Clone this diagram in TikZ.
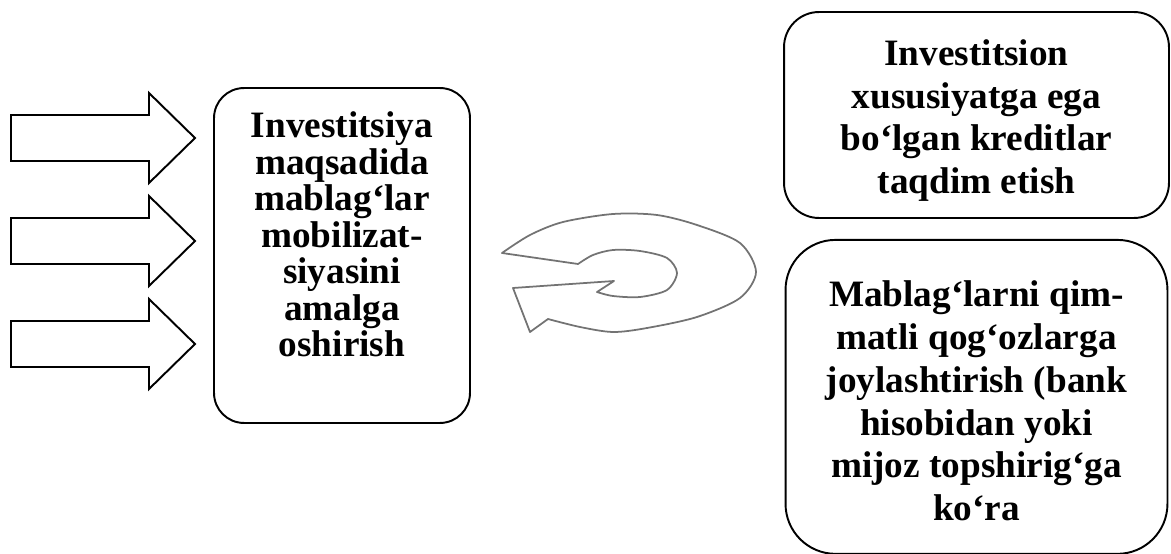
\documentclass[tikz,border=0pt]{standalone}
\usepackage{fontspec}
\newfontfamily\boxfont{Liberation Serif}
\usetikzlibrary{positioning}

\begin{document}
\begin{tikzpicture}[x=0.02cm, y=-0.02cm,
		box/.style={draw, line width=1.1pt, inner sep=0pt},
		narrowtext/.style={font={\boxfont\bfseries\fontsize{21.2pt}{20.8pt}\selectfont}, align=center},
		widetext/.style={font={\boxfont\bfseries\fontsize{21.2pt}{24.4pt}\selectfont}, align=center},
		blockarrow/.style={draw, line width=1.1pt, line join=miter},
		swirl/.style={draw=black!55, line width=1pt, line join=round}]
				\useasboundingbox (0,0) rectangle (1171,554);
				% three block arrows on the left
				\foreach \c in {138,241,344}
					\draw [blockarrow] (11,\c-23) -- (149,\c-23) -- (149,\c-45) -- (195,\c) -- (149,\c+45) -- (149,\c+23) -- (11,\c+23) -- cycle;
				% left box
				\node[box, rounded corners=0.6cm, minimum width=5.12cm, minimum height=6.7cm] (mobil) at (342,255.5) {};
				\node[narrowtext, yshift=0.42cm] (mobiltxt) at (mobil) {Investitsiya\\maqsadida\\mablag‘lar\\mobilizat-\\siyasini\\amalga\\oshirish};
				% right boxes
				\node[box, rounded corners=0.7cm, minimum width=7.7cm, minimum height=4.12cm] (credit) at (976.5,115) {};
				\node[widetext, yshift=-0.11cm] (credittxt) at (credit) {Investitsion\\xususiyatga ega\\bo‘lgan kreditlar\\taqdim etish};
				\node[box, rounded corners=1cm, minimum width=7.64cm, minimum height=6.28cm, below=0.4cm of credit] (securities) {};
				\node[widetext, yshift=-0.08cm] (securitiestxt) at (securities) {Mablag‘larni qim-\\matli qog‘ozlarga\\joylashtirish (bank\\hisobidan yoki\\mijoz topshirig‘ga\\ko‘ra};
				% circular arrow in the middle
				\draw [swirl] plot[smooth] coordinates {(502,253) (530,235) (563,222) (613,214) (657,215) (697,225) (740,243) (756,272) (740,298) (697,317) (647,328) (613,332) (580,327) (548,319)}
					-- (530,332) -- (513,288) -- (614,281) -- (597,292)
					-- plot[smooth] coordinates {(597,292) (613,296) (640,297) (667,290) (677,273) (667,258) (640,251) (613,250) (593,255) (578,264)} -- cycle;
			\end{tikzpicture}
\end{document}
